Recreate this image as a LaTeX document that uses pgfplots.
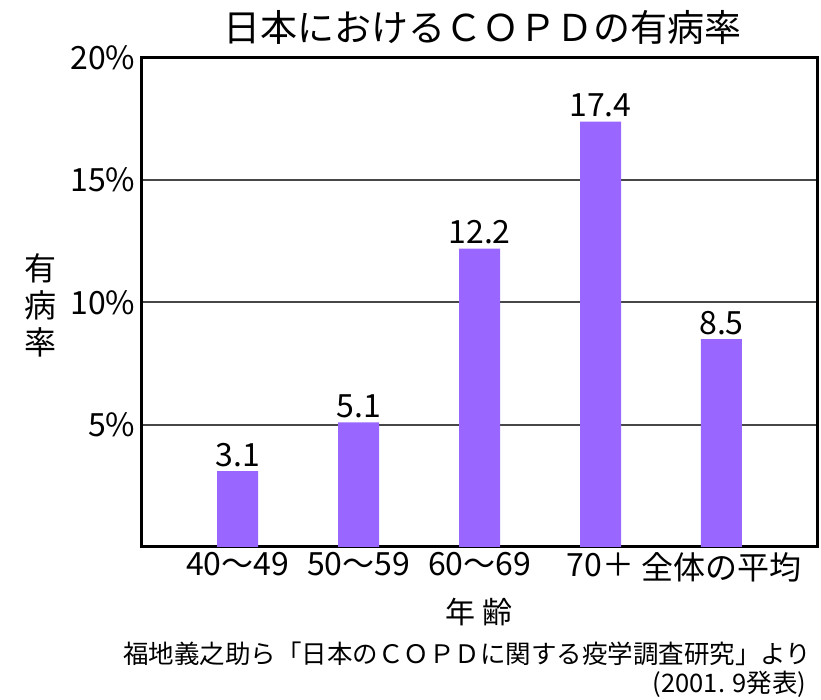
\documentclass[border=0pt]{standalone}
\usepackage{fontspec}
\setmainfont{Noto Sans CJK JP}
\usepackage{pgfplots}
\pgfplotsset{compat=1.18}
\definecolor{barpurple}{HTML}{9966FF}
\begin{document}
\begin{tikzpicture}[x=1pt,y=1pt]
\useasboundingbox (0,0) rectangle (821,700);
\begin{axis}[
  at={(141pt,153pt)}, anchor=south west,
  scale only axis, width=676pt, height=489pt,
  xmin=-0.8, xmax=4.79, ymin=0, ymax=20,
  ybar, bar width=41pt,
  xtick={0,1,2,3,4},
  xticklabels={40～49,50～59,60～69,70＋,全体の平均},
  ytick={5,10,15,20}, yticklabels={5\%,10\%,15\%,20\%},
  /pgf/number format/assume math mode=true,
  ymajorgrids, grid style={line width=2pt, color=black!72},
  axis line style={line width=3pt},
  major tick length=0pt,
  tick label style={font=\fontsize{32}{34}\selectfont},
  xticklabel style={yshift=-2pt},
  yticklabel style={xshift=-2pt},
  nodes near coords,
  nodes near coords style={font=\fontsize{32}{34}\selectfont, anchor=south, yshift=1pt,
    /pgf/number format/.cd, fixed, precision=1, zerofill, assume math mode=true},
]
\addplot[fill=barpurple, draw=none] coordinates {(0,3.1) (1,5.1) (2,12.2) (3,17.4) (4,8.5)};
\end{axis}
\node[font=\fontsize{37}{40}\selectfont] at (482,672) {日本におけるＣＯＰＤの有病率};
\node[font=\fontsize{32}{37}\selectfont, align=center] at (40,395) {有\\病\\率};
\node[font=\fontsize{30}{32}\selectfont] at (479,88) {年 齢};
\node[font=\fontsize{25.5}{28}\selectfont, anchor=east] at (815,46) {福地義之助ら「日本のＣＯＰＤに関する疫学調査研究」より};
\node[font=\fontsize{25.5}{28}\selectfont, anchor=east] at (810,16) {(2001. 9発表)};
\end{tikzpicture}
\end{document}
